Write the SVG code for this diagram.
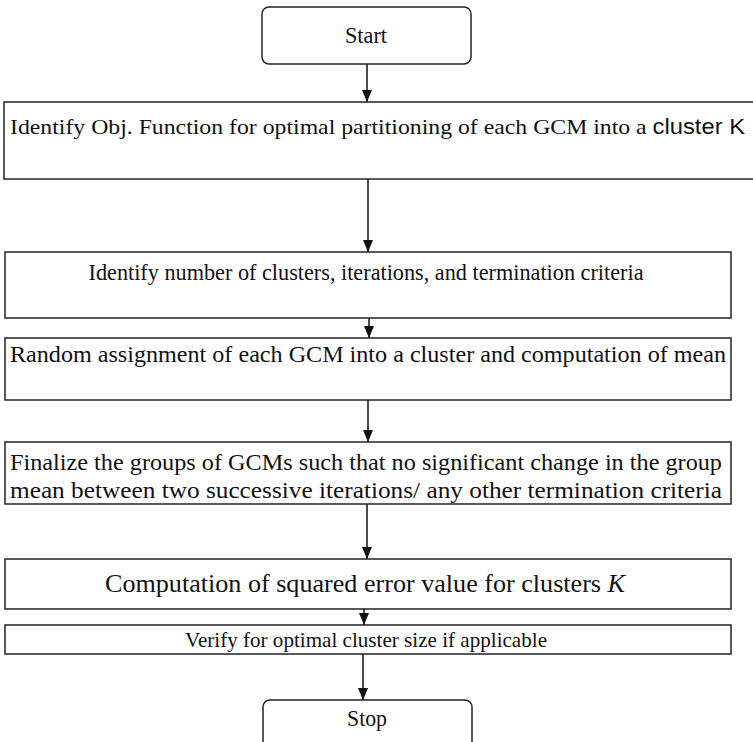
<svg xmlns="http://www.w3.org/2000/svg" width="753" height="742" viewBox="0 0 753 742">
  <defs>
    <marker id="arrow" viewBox="0 0 12 10" refX="12" refY="5" markerWidth="12" markerHeight="10" markerUnits="userSpaceOnUse" orient="auto">
      <path d="M0,0 L12,5 L0,10 z" fill="#111"/>
    </marker>
  </defs>
  <style>
    .box { fill: #fff; stroke: #222; stroke-width: 1.5; }
    .lbl { font-family: "Liberation Serif", "Times New Roman", serif; font-size: 23px; fill: #111; text-anchor: middle; }
    .left { text-anchor: start; }
    .sans { font-family: "Liberation Sans", Arial, sans-serif; }
    .link { stroke: #111; stroke-width: 1.5; fill: none; marker-end: url(#arrow); }
  </style>
  <rect width="753" height="742" fill="#fff"/>

  <g id="connectors">
    <line class="link" x1="367" y1="64" x2="367" y2="102"/>
    <line class="link" x1="368" y1="179" x2="368" y2="252"/>
    <line class="link" x1="369" y1="318" x2="369" y2="338"/>
    <line class="link" x1="368" y1="400" x2="368" y2="442"/>
    <line class="link" x1="367" y1="504" x2="367" y2="559"/>
    <line class="link" x1="364" y1="609" x2="364" y2="625"/>
    <line class="link" x1="363" y1="654" x2="363" y2="700"/>
  </g>

  <g id="start">
    <rect class="box" x="262" y="7" width="209" height="57" rx="7"/>
    <text class="lbl" x="366" y="43" textLength="42" lengthAdjust="spacingAndGlyphs">Start</text>
  </g>

  <g id="objective">
    <rect class="box" x="4" y="102" width="752" height="77"/>
    <text class="lbl left" x="10" y="134" style="font-size:22px" textLength="735" lengthAdjust="spacingAndGlyphs">Identify Obj. Function for optimal partitioning of each GCM into a <tspan class="sans">cluster K</tspan></text>
  </g>

  <g id="settings">
    <rect class="box" x="5" y="252" width="726" height="66"/>
    <text class="lbl" x="366" y="280" textLength="555" lengthAdjust="spacingAndGlyphs">Identify number of clusters, iterations, and termination criteria</text>
  </g>

  <g id="assignment">
    <rect class="box" x="5" y="338" width="726" height="62"/>
    <text class="lbl" x="368" y="362" textLength="716" lengthAdjust="spacingAndGlyphs">Random assignment of each GCM into a cluster and computation of mean</text>
  </g>

  <g id="finalize">
    <rect class="box" x="5" y="442" width="726" height="62"/>
    <text class="lbl left" x="10" y="470" textLength="712" lengthAdjust="spacingAndGlyphs">Finalize the groups of GCMs such that no significant change in the group</text>
    <text class="lbl left" x="10" y="498" textLength="712" lengthAdjust="spacingAndGlyphs">mean between two successive iterations/ any other termination criteria</text>
  </g>

  <g id="error">
    <rect class="box" x="5" y="559" width="726" height="50"/>
    <text class="lbl" x="365" y="592" style="font-size:25px" textLength="520" lengthAdjust="spacingAndGlyphs">Computation of squared error value for clusters <tspan font-style="italic">K</tspan></text>
  </g>

  <g id="verify">
    <rect class="box" x="5" y="625" width="726" height="29"/>
    <text class="lbl" x="366" y="647" style="font-size:22px" textLength="362" lengthAdjust="spacingAndGlyphs">Verify for optimal cluster size if applicable</text>
  </g>

  <g id="stop">
    <rect class="box" x="263" y="700" width="209" height="60" rx="7"/>
    <text class="lbl" x="367" y="726" textLength="40" lengthAdjust="spacingAndGlyphs">Stop</text>
  </g>
</svg>
